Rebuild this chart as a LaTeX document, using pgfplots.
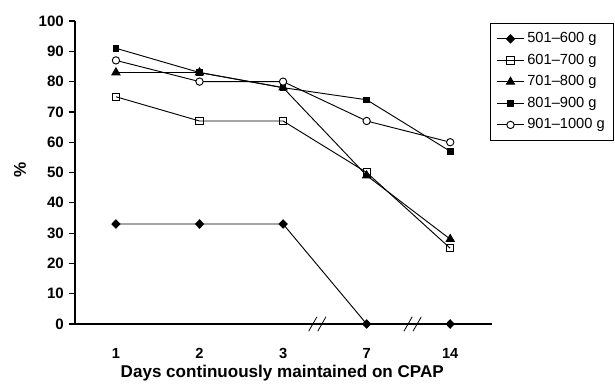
\documentclass[border=0pt]{standalone}
\usepackage{fontspec}
\setmainfont{Liberation Sans}
\usepackage{pgfplots}
\pgfplotsset{compat=1.18}
\newcommand{\lf}{\fontsize{11}{13}\selectfont}
\begin{document}
\fontsize{11}{13}\selectfont
\begin{tikzpicture}
\useasboundingbox (-56.25pt,-47.25pt) rectangle (405pt,243pt);
\begin{axis}[
  at={(0pt,0pt)}, anchor=south west,
  scale only axis, width=312.75pt, height=227.25pt,
  axis lines*=left,
  axis line style={line width=0.9pt},
  xmin=-0.49, xmax=4.5, ymin=0, ymax=100,
  xtick={0,1,2,3,4}, xticklabels={\textbf{1},\textbf{2},\textbf{3},\textbf{7},\textbf{14}},
  ytick={0,10,20,30,40,50,60,70,80,90,100},
  yticklabels={\textbf{0},\textbf{10},\textbf{20},\textbf{30},\textbf{40},\textbf{50},\textbf{60},\textbf{70},\textbf{80},\textbf{90},\textbf{100}},
  x tick style={draw=none},
  y tick style={line width=0.9pt, black},
  tick align=outside,
  major tick length=4.5pt,
  /pgf/number format/assume math mode=true,
  xticklabel style={font=\fontsize{11}{13}\selectfont\bfseries, yshift=-10pt},
  yticklabel style={font=\fontsize{11.3}{13}\selectfont\bfseries},
  xlabel={Days continuously maintained on CPAP},
  ylabel={\%},
  xlabel style={font=\fontsize{12.8}{15}\selectfont\bfseries, at={(axis description cs:0.497,-0.162)}, anchor=center},
  ylabel style={font=\fontsize{12.8}{15}\selectfont\bfseries, at={(axis description cs:-0.132,0.508)}, anchor=center, rotate=0},
  clip=false,
  every axis plot/.append style={black, line width=0.7pt},
  legend style={at={(axis description cs:0.995,0.993)}, anchor=north west,
    draw=black, line width=0.7pt, font=\lf,
    row sep=2.8pt, inner xsep=4.5pt, inner ysep=4.8pt,
    legend cell align=left},
  legend image code/.code={\draw[#1] (0cm,0cm) -- (0.72cm,0cm); \draw[#1, mark repeat=2, mark phase=2] plot coordinates {(0cm,0cm) (0.36cm,0cm) (0.72cm,0cm)};},
]
\addplot[mark=diamond*, mark size=3.1pt, mark options={fill=black, xscale=1.3}] coordinates {(0,33) (1,33) (2,33) (3,0) (4,0)};
\addlegendentry{\lf 501–600 g}
\addplot[mark=square, mark size=2.75pt, mark options={fill=white, line width=0.7pt}] coordinates {(0,75) (1,67) (2,67) (3,50) (4,25)};
\addlegendentry{\lf 601–700 g}
\addplot[mark=triangle*, mark size=3.5pt, mark options={fill=black}] coordinates {(0,83) (1,83) (2,78) (3,49) (4,28)};
\addlegendentry{\lf 701–800 g}
\addplot[mark=square*, mark size=2.1pt, mark options={fill=black}] coordinates {(0,91) (1,83) (2,78) (3,74) (4,57)};
\addlegendentry{\lf 801–900 g}
\addplot[mark=*, mark size=2.75pt, mark options={fill=white, line width=0.7pt}] coordinates {(0,87) (1,80) (2,80) (3,67) (4,60)};
\addlegendentry{\lf 901–1000 g}
\draw[line width=0.6pt] ([shift={(-6.5pt,-5.4pt)}]axis cs:2.41,0) -- ++(6.2pt,10.8pt);
\draw[line width=0.6pt] ([shift={(0.3pt,-5.4pt)}]axis cs:2.41,0) -- ++(6.2pt,10.8pt);
\draw[line width=0.6pt] ([shift={(-6.5pt,-5.4pt)}]axis cs:3.55,0) -- ++(6.2pt,10.8pt);
\draw[line width=0.6pt] ([shift={(0.3pt,-5.4pt)}]axis cs:3.55,0) -- ++(6.2pt,10.8pt);
\end{axis}
\end{tikzpicture}
\end{document}
